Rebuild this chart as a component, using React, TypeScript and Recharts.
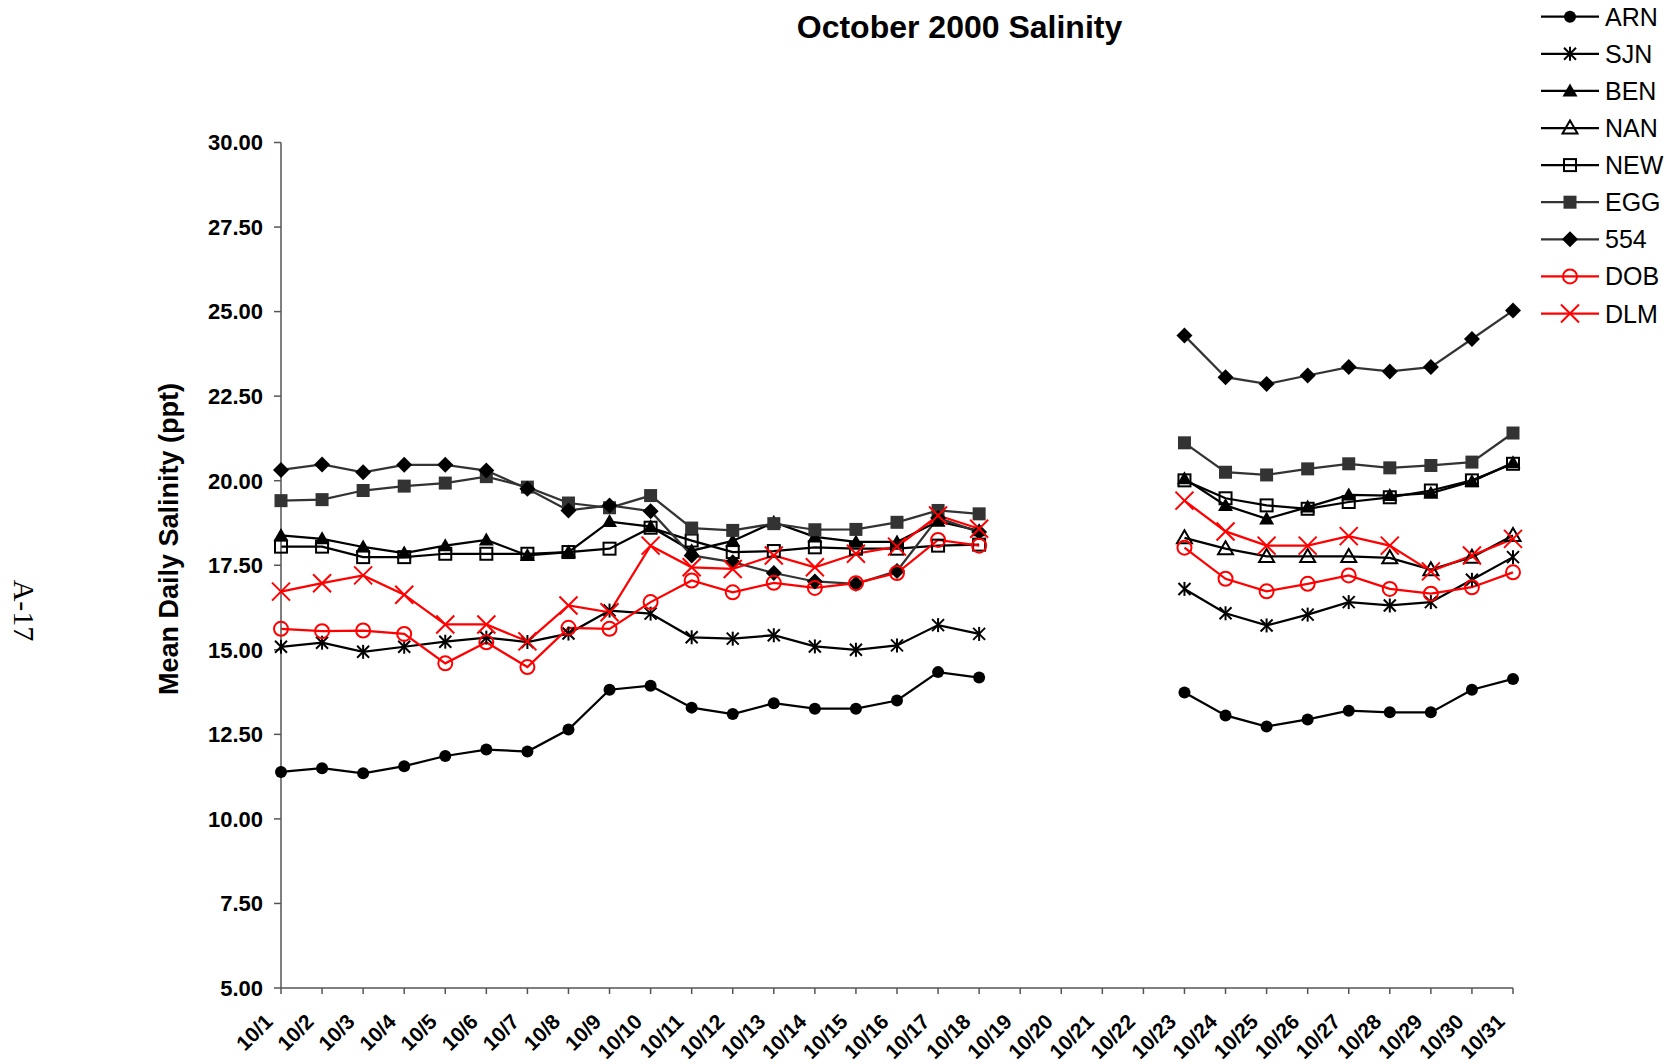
import React from "react";
import { LineChart, Line, XAxis, YAxis } from "recharts";

const DAYS = [
  "10/1", "10/2", "10/3", "10/4", "10/5", "10/6", "10/7", "10/8", "10/9", "10/10",
  "10/11", "10/12", "10/13", "10/14", "10/15", "10/16", "10/17", "10/18", "10/19", "10/20",
  "10/21", "10/22", "10/23", "10/24", "10/25", "10/26", "10/27", "10/28", "10/29", "10/30",
  "10/31",
];

const Y_TICKS = [5, 7.5, 10, 12.5, 15, 17.5, 20, 22.5, 25, 27.5, 30];

const GAP = [null, null, null, null];

const ARN = [
  11.39, 11.5, 11.35, 11.56, 11.86, 12.05, 11.99, 12.64, 13.82, 13.94,
  13.29, 13.1, 13.42, 13.26, 13.26, 13.5, 14.34, 14.18, ...GAP,
  13.74, 13.06, 12.73, 12.94, 13.2, 13.15, 13.15, 13.82, 14.14,
];
const SJN = [
  15.09, 15.21, 14.94, 15.09, 15.24, 15.36, 15.23, 15.48, 16.16, 16.07,
  15.37, 15.33, 15.43, 15.1, 15.0, 15.13, 15.73, 15.47, ...GAP,
  16.8, 16.08, 15.72, 16.04, 16.41, 16.31, 16.41, 17.07, 17.74,
];
const BEN = [
  18.38, 18.28, 18.04, 17.86, 18.08, 18.25, 17.79, 17.89, 18.79, 18.64,
  17.93, 18.22, 18.77, 18.34, 18.19, 18.19, 18.8, 18.52, ...GAP,
  20.06, 19.27, 18.87, 19.22, 19.58, 19.56, 19.63, 19.98, 20.53,
];
const NAN = [
  null, null, null, null, null, null, null, null, null, null,
  null, null, null, null, null, null, null, null, ...GAP,
  18.31, 17.99, 17.76, 17.76, 17.76, 17.72, 17.37, 17.74, 18.38,
];
const NEW = [
  18.05, 18.05, 17.74, 17.74, 17.84, 17.84, 17.84, 17.89, 17.99, 18.61,
  18.23, 17.89, 17.92, 18.03, 17.99, 17.99, 18.08, 18.11, ...GAP,
  20.01, 19.48, 19.27, 19.17, 19.37, 19.51, 19.71, 20.01, 20.5,
];
const EGG = [
  19.41, 19.44, 19.71, 19.84, 19.93, 20.12, 19.81, 19.34, 19.2, 19.56,
  18.6, 18.53, 18.73, 18.55, 18.56, 18.77, 19.12, 19.02, ...GAP,
  21.12, 20.25, 20.17, 20.35, 20.5, 20.38, 20.45, 20.55, 21.41,
];
const S554 = [
  20.32, 20.48, 20.25, 20.47, 20.47, 20.3, 19.76, 19.12, 19.27, 19.1,
  17.79, 17.59, 17.27, 17.02, 16.95, 17.33, 18.9, 18.48, ...GAP,
  24.29, 23.06, 22.86, 23.11, 23.36, 23.23, 23.36, 24.19, 25.03,
];
const DOB = [
  15.62, 15.55, 15.57, 15.47, 14.6, 15.22, 14.49, 15.65, 15.62, 16.41,
  17.05, 16.7, 16.98, 16.83, 16.97, 17.27, 18.25, 18.08, ...GAP,
  18.02, 17.1, 16.73, 16.95, 17.2, 16.8, 16.66, 16.85, 17.29,
];
const DLM = [
  16.72, 16.97, 17.2, 16.63, 15.75, 15.75, 15.25, 16.31, 16.11, 18.08,
  17.44, 17.39, 17.79, 17.44, 17.84, 18.05, 18.97, 18.58, ...GAP,
  19.41, 18.5, 18.08, 18.08, 18.36, 18.08, 17.32, 17.79, 18.28,
];

// line colour, marker colour, marker shape
const SERIES = [
  { name: "ARN", values: ARN, color: "#000000", mark: "#000000", shape: "circle" },
  { name: "SJN", values: SJN, color: "#000000", mark: "#000000", shape: "star" },
  { name: "BEN", values: BEN, color: "#000000", mark: "#000000", shape: "triangle" },
  { name: "NAN", values: NAN, color: "#000000", mark: "#000000", shape: "triangleOpen" },
  { name: "NEW", values: NEW, color: "#000000", mark: "#000000", shape: "squareOpen" },
  { name: "EGG", values: EGG, color: "#333333", mark: "#333333", shape: "square" },
  { name: "554", values: S554, color: "#333333", mark: "#000000", shape: "diamond" },
  { name: "DOB", values: DOB, color: "#FF0000", mark: "#FF0000", shape: "circleOpen" },
  { name: "DLM", values: DLM, color: "#FF0000", mark: "#FF0000", shape: "x" },
];

const data = DAYS.map((day, i) => {
  const row: any = { day };
  SERIES.forEach((s) => {
    row[s.name] = s.values[i];
  });
  return row;
});

const W = 1658;
const H = 1056;
const FONT = "'Liberation Sans', Arial, sans-serif";

function Marker({ shape, cx, cy, color }: { shape: string; cx: number; cy: number; color: string }) {
  switch (shape) {
    case "circle":
      return <circle cx={cx} cy={cy} r={6} fill={color} />;
    case "star":
      return (
        <g stroke={color} strokeWidth={2}>
          <line x1={cx} y1={cy - 7} x2={cx} y2={cy + 7} />
          <line x1={cx - 6} y1={cy - 6} x2={cx + 6} y2={cy + 6} />
          <line x1={cx - 6} y1={cy + 6} x2={cx + 6} y2={cy - 6} />
        </g>
      );
    case "triangle":
      return <polygon points={`${cx},${cy - 7.5} ${cx + 7.5},${cy + 5.5} ${cx - 7.5},${cy + 5.5}`} fill={color} />;
    case "triangleOpen":
      return (
        <polygon
          points={`${cx},${cy - 7.5} ${cx + 7.5},${cy + 5.5} ${cx - 7.5},${cy + 5.5}`}
          fill="none"
          stroke={color}
          strokeWidth={2}
        />
      );
    case "squareOpen":
      return <rect x={cx - 6} y={cy - 6} width={12} height={12} fill="none" stroke={color} strokeWidth={2} />;
    case "square":
      return <rect x={cx - 6.5} y={cy - 6.5} width={13} height={13} fill={color} />;
    case "diamond":
      return <polygon points={`${cx},${cy - 8} ${cx + 8},${cy} ${cx},${cy + 8} ${cx - 8},${cy}`} fill={color} />;
    case "circleOpen":
      return <circle cx={cx} cy={cy} r={7} fill="none" stroke={color} strokeWidth={2} />;
    case "x":
      return (
        <g stroke={color} strokeWidth={2}>
          <line x1={cx - 9} y1={cy - 9} x2={cx + 9} y2={cy + 9} />
          <line x1={cx - 9} y1={cy + 9} x2={cx + 9} y2={cy - 9} />
        </g>
      );
    default:
      return null;
  }
}

const makeDot = (shape: string, color: string) => (props: any) => {
  const { cx, cy, value, index } = props;
  if (cx == null || cy == null || value == null) return <g key={index} />;
  return (
    <g key={index}>
      <Marker shape={shape} cx={cx} cy={cy} color={color} />
    </g>
  );
};

function DayTick({ x, y, payload }: any) {
  const ax = x - 7;
  const ay = y + 29;
  return (
    <text
      x={ax}
      y={ay}
      transform={`rotate(-45, ${ax}, ${ay})`}
      textAnchor="end"
      fontFamily={FONT}
      fontWeight="bold"
      fontSize={21}
      fill="#000"
    >
      {payload.value}
    </text>
  );
}

export default function App() {
  return (
    <div style={{ position: "relative", width: W, height: H }}>
      <LineChart
        width={W}
        height={H}
        data={data}
        margin={{ top: 134.5, right: 153, bottom: 16, left: 193 }}
      >
        <XAxis
          dataKey="day"
          scale="point"
          interval={0}
          padding={{ left: 0, right: 0 }}
          height={60}
          tickSize={6}
          tickMargin={0}
          tick={<DayTick />}
          axisLine={{ stroke: "#555", strokeWidth: 1.5 }}
          tickLine={{ stroke: "#555", strokeWidth: 1.5 }}
        />
        <YAxis
          width={80}
          domain={[5, 30]}
          ticks={Y_TICKS}
          interval={0}
          tickFormatter={(v: number) => v.toFixed(2)}
          tickSize={7}
          tickMargin={11}
          tick={{ fontFamily: FONT, fontWeight: "bold", fontSize: 22, fill: "#000" }}
          axisLine={{ stroke: "#555", strokeWidth: 1.5 }}
          tickLine={{ stroke: "#555", strokeWidth: 1.5 }}
        />
        {SERIES.map((s) => (
          <Line
            key={s.name}
            type="linear"
            dataKey={s.name}
            stroke={s.color}
            strokeWidth={2.25}
            dot={makeDot(s.shape, s.mark)}
            activeDot={false}
            connectNulls={false}
            isAnimationActive={false}
          />
        ))}
      </LineChart>

      <svg
        width={W}
        height={H}
        style={{ position: "absolute", left: 0, top: 0, pointerEvents: "none", overflow: "visible" }}
      >
        <text x={951.5} y={30} textAnchor="middle" fontFamily={FONT} fontWeight="bold" fontSize={32}>
          October 2000 Salinity
        </text>
        <text
          x={170}
          y={531}
          transform="rotate(-90, 170, 531)"
          textAnchor="middle"
          fontFamily={FONT}
          fontWeight="bold"
          fontSize={27}
        >
          Mean Daily Salinity (ppt)
        </text>
        <text
          x={6}
          y={602.5}
          transform="rotate(90, 6, 602.5)"
          textAnchor="middle"
          fontFamily="'Liberation Serif', 'Times New Roman', serif"
          fontSize={30}
        >
          A-17
        </text>
        {SERIES.map((s, i) => {
          const cy = 8.7 + i * 37.1;
          return (
            <g key={s.name}>
              <line x1={1533} y1={cy} x2={1591} y2={cy} stroke={s.color} strokeWidth={2.25} />
              <Marker shape={s.shape} cx={1562} cy={cy} color={s.mark} />
              <text x={1597} y={cy + 9} fontFamily={FONT} fontSize={25} fill="#000">
                {s.name}
              </text>
            </g>
          );
        })}
      </svg>
    </div>
  );
}
